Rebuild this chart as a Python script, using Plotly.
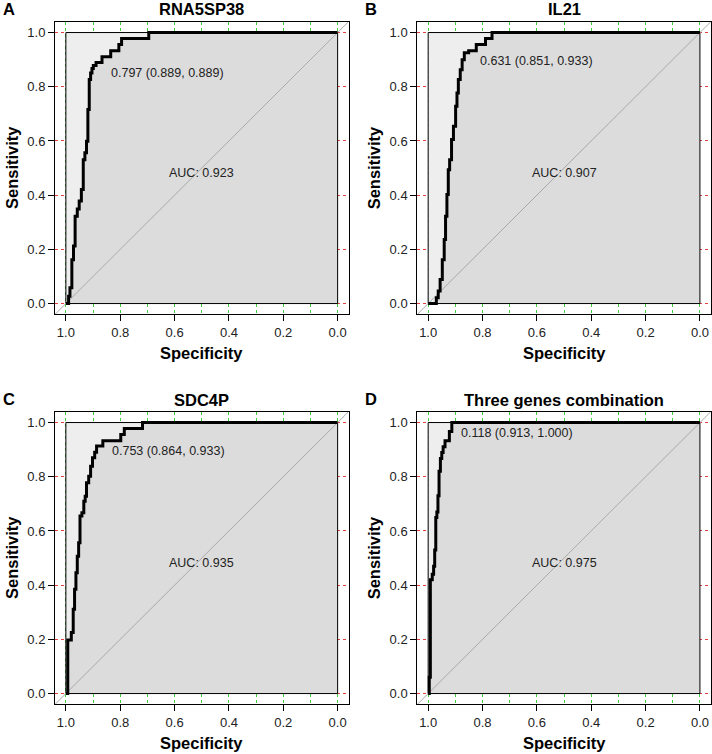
import plotly.graph_objects as go

# ---------------- data ----------------
titles = ["RNA5SP38", "IL21", "SDC4P", "Three genes combination"]
letters = ["A", "B", "C", "D"]
auc_values = [0.923, 0.907, 0.935, 0.975]
thr_values = [0.797, 0.631, 0.753, 0.118]
thr_spec = [0.889, 0.851, 0.864, 0.913]
thr_sens = [0.889, 0.933, 0.933, 1.000]

spec_A = [1.0, 0.990, 0.985, 0.978, 0.972, 0.966, 0.958, 0.951, 0.943, 0.936, 0.930, 0.924,
          0.919, 0.914, 0.909, 0.904, 0.899, 0.889, 0.867, 0.835, 0.805, 0.795, 0.695, 0.0]
sens_A = [0.0, 0.027, 0.058, 0.162, 0.212, 0.322, 0.349, 0.378, 0.421, 0.531, 0.556, 0.599,
          0.716, 0.827, 0.851, 0.867, 0.878, 0.889, 0.911, 0.933, 0.956, 0.978, 1.0, 1.0]

spec_B = [1.0, 0.970, 0.963, 0.956, 0.948, 0.941, 0.936, 0.931, 0.926, 0.921, 0.914, 0.907,
          0.899, 0.894, 0.889, 0.882, 0.875, 0.867, 0.851, 0.823, 0.789, 0.765, 0.0]
sens_B = [0.0, 0.021, 0.046, 0.089, 0.162, 0.236, 0.322, 0.402, 0.494, 0.531, 0.605, 0.654,
          0.728, 0.777, 0.827, 0.863, 0.900, 0.925, 0.933, 0.956, 0.978, 1.0, 1.0]

spec_C = [1.0, 0.993, 0.980, 0.973, 0.968, 0.963, 0.958, 0.953, 0.948, 0.941, 0.934, 0.929,
          0.924, 0.916, 0.909, 0.902, 0.894, 0.887, 0.864, 0.798, 0.785, 0.718, 0.0]
sens_C = [0.0, 0.198, 0.225, 0.311, 0.385, 0.446, 0.507, 0.556, 0.655, 0.667, 0.710, 0.728,
          0.778, 0.802, 0.839, 0.870, 0.890, 0.913, 0.933, 0.956, 0.978, 1.0, 1.0]

spec_D = [1.0, 0.996, 0.992, 0.985, 0.980, 0.976, 0.972, 0.968, 0.964, 0.960, 0.955, 0.950,
          0.945, 0.938, 0.922, 0.913, 0.0]
sens_D = [0.0, 0.060, 0.420, 0.440, 0.470, 0.530, 0.650, 0.670, 0.730, 0.820, 0.867, 0.889,
          0.911, 0.933, 0.967, 1.0, 1.0]

specs = [spec_A, spec_B, spec_C, spec_D]
senss = [sens_A, sens_B, sens_C, sens_D]

tick_vals = [0.0, 0.2, 0.4, 0.6, 0.8, 1.0]
tick_text = ["0.0", "0.2", "0.4", "0.6", "0.8", "1.0"]

# ---------------- layout geometry ----------------
W, H = 712, 754
PW, PH = 293.5, 292.7
lefts = [55.0, 417.3, 55.0, 417.3]
tops = [21.7, 21.7, 411.7, 411.7]
EXT = 0.04
XR = [1 + EXT, -EXT]
YR = [-EXT, 1 + EXT]
BOX_X = [1, 1, 0, 0, 1]
BOX_Y = [0, 1, 1, 0, 0]

FONT = "Liberation Sans, Arial, sans-serif"
GREEN = "#3fcf3f"
RED = "#e84040"
thr_xshift = [13, 9, 7, 7]

fig = go.Figure()
annotations = []
layout_axes = {}

for i in range(4):
    xa = "x" if i == 0 else f"x{i+1}"
    ya = "y" if i == 0 else f"y{i+1}"
    xkey = "xaxis" if i == 0 else f"xaxis{i+1}"
    ykey = "yaxis" if i == 0 else f"yaxis{i+1}"
    l, t = lefts[i], tops[i]
    x0, x1 = l / W, (l + PW) / W
    y0, y1 = 1 - (t + PH) / H, 1 - t / H

    layout_axes[xkey] = dict(
        domain=[x0, x1], range=XR, anchor=ya, tickvals=tick_vals, ticktext=tick_text,
        ticks="outside", ticklen=6, tickcolor="black", tickwidth=1,
        showline=True, mirror=True, linecolor="black", linewidth=1,
        showgrid=True, gridcolor=GREEN, griddash="dot", gridwidth=1,
        minor=dict(dtick=0.1, tick0=0, showgrid=True, gridcolor=GREEN, griddash="dot",
                   gridwidth=1, ticks=""),
        zeroline=False, tickfont=dict(family=FONT, size=13, color="#222"), fixedrange=True,
    )
    layout_axes[ykey] = dict(
        domain=[y0, y1], range=YR, anchor=xa, tickvals=tick_vals, ticktext=tick_text,
        ticks="outside", ticklen=6, tickcolor="black", tickwidth=1,
        showline=True, mirror=True, linecolor="black", linewidth=1,
        showgrid=True, gridcolor=RED, griddash="dot", gridwidth=1,
        zeroline=False, tickfont=dict(family=FONT, size=13, color="#222"), fixedrange=True,
    )

    # max AUC polygon (whole unit box)
    fig.add_trace(go.Scatter(x=BOX_X, y=BOX_Y, xaxis=xa, yaxis=ya, mode="lines",
                             fill="toself", fillcolor="#EEEEEE", line=dict(width=0),
                             hoverinfo="skip", showlegend=False))
    # AUC polygon
    fig.add_trace(go.Scatter(x=specs[i], y=senss[i], xaxis=xa, yaxis=ya, mode="lines",
                             fill="tozeroy", fillcolor="#DCDCDC",
                             line=dict(width=0, shape="hv", color="#DCDCDC"),
                             hoverinfo="skip", showlegend=False))
    # box outline
    fig.add_trace(go.Scatter(x=BOX_X, y=BOX_Y, xaxis=xa, yaxis=ya, mode="lines",
                             line=dict(width=1, color="black"),
                             hoverinfo="skip", showlegend=False))
    # diagonal reference line
    fig.add_trace(go.Scatter(x=XR, y=YR, xaxis=xa, yaxis=ya, mode="lines",
                             line=dict(width=1, color="#A9A9A9"),
                             hoverinfo="skip", showlegend=False))
    # ROC curve
    fig.add_trace(go.Scatter(x=specs[i], y=senss[i], xaxis=xa, yaxis=ya, mode="lines",
                             line=dict(width=3, shape="hv", color="black"),
                             hoverinfo="skip", showlegend=False))

    inner_l = l + EXT / (1 + 2 * EXT) * PW
    inner_r = l + PW - EXT / (1 + 2 * EXT) * PW
    cx = (inner_l + inner_r) / 2 / W
    inner_t = t + EXT / (1 + 2 * EXT) * PH
    inner_b = t + PH - EXT / (1 + 2 * EXT) * PH
    cy = 1 - (inner_t + inner_b) / 2 / H

    annotations += [
        dict(text=f"<b>{titles[i]}</b>", x=cx, y=1 - (t - 12.2) / H, xref="paper", yref="paper",
             xanchor="center", yanchor="middle", showarrow=False,
             font=dict(family=FONT, size=16.5, color="black")),
        dict(text=f"<b>{letters[i]}</b>", x=(l - 54.5) / W, y=1 - (t - 12.5) / H,
             xref="paper", yref="paper", xanchor="left", yanchor="middle", showarrow=False,
             font=dict(family=FONT, size=16.5, color="black")),
        dict(text="<b>Specificity</b>", x=cx, y=1 - (t + 331.5) / H, xref="paper", yref="paper",
             xanchor="center", yanchor="middle", showarrow=False,
             font=dict(family=FONT, size=16.5, color="black")),
        dict(text="<b>Sensitivity</b>", x=(l - 43) / W, y=cy, xref="paper", yref="paper",
             xanchor="center", yanchor="middle", textangle=-90, showarrow=False,
             font=dict(family=FONT, size=16.5, color="black")),
        dict(text=f"{thr_values[i]:.3f} ({thr_spec[i]:.3f}, {thr_sens[i]:.3f})",
             x=thr_spec[i], y=thr_sens[i], xref=xa, yref=ya, xanchor="left", yanchor="middle",
             xshift=thr_xshift[i], yshift=-10, showarrow=False,
             font=dict(family=FONT, size=12.5, color="#222")),
        dict(text=f"AUC: {auc_values[i]:.3f}", x=0.5, y=0.5, xref=xa, yref=ya,
             xanchor="center", yanchor="middle", yshift=-5, showarrow=False,
             font=dict(family=FONT, size=12.5, color="#222")),
    ]

fig.update_layout(
    width=W, height=H, margin=dict(l=0, r=0, t=0, b=0, autoexpand=False),
    paper_bgcolor="white", plot_bgcolor="white", showlegend=False,
    annotations=annotations, **layout_axes,
)

fig.write_html(
    "out.html",
    config={"displayModeBar": False, "staticPlot": True},
    post_script="document.body.style.margin='0px';document.body.style.padding='0px';"
                "document.body.style.overflow='hidden';",
)
